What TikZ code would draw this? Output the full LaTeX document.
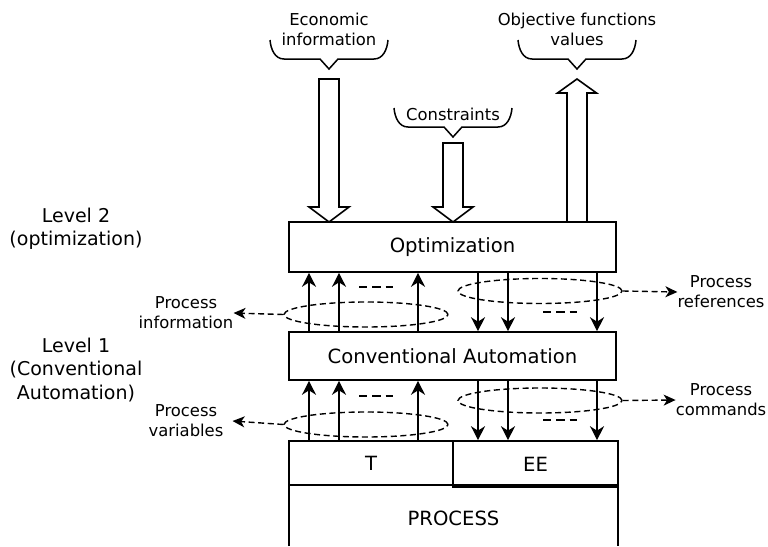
\documentclass[tikz,border=0pt]{standalone}
\usepackage{fontspec}
\setmainfont{DejaVu Sans}
\usetikzlibrary{arrows.meta,shapes.geometric}

% block arrow pointing down: centre x, top y, tip y
\newcommand{\blockdown}[3]{%
  \draw[blockarrow] (#1-10,#2) -- (#1+10,#2) -- (#1+10,#3-15) -- (#1+20,#3-15)
    -- (#1,#3) -- (#1-20,#3-15) -- (#1-10,#3-15) -- cycle;}
% block arrow pointing up: centre x, bottom y, tip y
\newcommand{\blockup}[3]{%
  \draw[blockarrow] (#1-10,#2) -- (#1+10,#2) -- (#1+10,#3+14) -- (#1+19.5,#3+14)
    -- (#1,#3) -- (#1-19.5,#3+14) -- (#1-10,#3+14) -- cycle;}

\tikzset{
  box/.style={draw, line width=1.6pt, rectangle, inner sep=0pt,
    font=\fontsize{19.6}{23}\selectfont},
  levelfont/.style={align=center, inner sep=0pt,
    font=\fontsize{19}{23.5}\selectfont},
  smalllabel/.style={align=center, inner sep=0pt,
    font=\fontsize{16.4}{20}\selectfont},
  blockarrow/.style={draw, line width=1.6pt, fill=white, line join=miter},
  flow/.style={line width=1.5pt, -{Stealth[length=14pt,width=14pt,inset=4.5pt]}},
  group/.style={ellipse, draw, line width=1.4pt, dash pattern=on 6pt off 3.6pt,
    inner sep=0pt, minimum width=164pt, minimum height=25pt},
  grouparrow/.style={line width=1.4pt, dash pattern=on 6pt off 3.6pt,
    -{Stealth[length=12pt,width=11pt,inset=3.5pt]}},
  ellipsis/.style={line width=1.5pt, dash pattern=on 8.3pt off 5pt},
  brace line/.style={line width=1.5pt},
  topbrace/.pic={
    \draw[brace line] (-59,-19) to[out=-85,in=180] (-45,0) -- (-9,0) -- (0,10)
      -- (9,0) -- (45,0) to[out=0,in=-95] (59,-19);
  }
}

\begin{document}
\begin{tikzpicture}[x=1pt, y=-1pt]
\useasboundingbox (0,0) rectangle (768,546);

% column positions of the signal lines
\coordinate (u1) at (309,0);
\coordinate (u2) at (339,0);
\coordinate (u3) at (418,0);
\coordinate (d1) at (478,0);
\coordinate (d2) at (508,0);
\coordinate (d3) at (597,0);

% level captions
\node[levelfont] (lev2) at (76,229) {Level 2\\(optimization)};
\node[levelfont] (lev1) at (76,370) {Level 1\\(Conventional\\Automation)};

% main blocks
\node[box, minimum width=327pt, minimum height=50pt] (opt) at (452.5,247) {Optimization};
\node[box, minimum width=327pt, minimum height=48pt] (ca) at (452.5,356) {Conventional Automation};
\node[box, minimum width=164pt, minimum height=44pt] (tbox) at (371,463) {T};
\node[box, minimum width=165pt, minimum height=46pt] (ee) at (535.5,464) {EE};
\draw[line width=1.6pt] (289,546) -- (289,485) -- (618,485) -- (618,546);
\node[box, draw=none] (proc) at (453.5,518) {PROCESS};

% inputs and outputs of the optimization level
\node[smalllabel] (eco) at (329,29) {Economic\\information};
\node[smalllabel] (cons) at (453,114) {Constraints};
\node[smalllabel] (obj) at (577,29) {Objective functions\\values};
\pic at (329,59) {topbrace};
\pic at (453,127) {topbrace};
\pic at (577,59) {topbrace};
\blockdown{329}{79}{222}
\blockdown{453}{143}{222}
\blockup{577}{222}{79}

% signal groups between the levels
\node[group] (ginfo) at (366,314.5) {};
\node[group] (gref) at (540,291) {};
\node[group] (gvar) at (366,424.5) {};
\node[group] (gcmd) at (540,400.5) {};

\node[smalllabel] (pinfo) at (186,313) {Process\\information};
\node[smalllabel] (pref) at (721,292) {Process\\references};
\node[smalllabel] (pvar) at (186,421) {Process\\variables};
\node[smalllabel] (pcmd) at (721,400) {Process\\commands};

\draw[grouparrow] (ginfo.west) -- (pinfo.east);
\draw[grouparrow] (gref.east) -- (pref.west);
\draw[grouparrow] (gvar.west) -- ([xshift=9pt]pvar.east);
\draw[grouparrow] (gcmd.east) -- (pcmd.west);

% measured values going up
\foreach \c in {u1,u2,u3} {
  \draw[flow] (ca.north -| \c) -- (opt.south -| \c);
  \draw[flow] (tbox.north -| \c) -- (ca.south -| \c);
}
% references and commands going down
\foreach \c in {d1,d2,d3} {
  \draw[flow] (opt.south -| \c) -- (ca.north -| \c);
  \draw[flow] (ca.south -| \c) -- (ee.north -| \c);
}

% "and so on" marks between the lines
\draw[ellipsis] (359,287) -- (393,287);
\draw[ellipsis] (543,312) -- (577,312);
\draw[ellipsis] (359,396) -- (393,396);
\draw[ellipsis] (543,420) -- (577,420);
\end{tikzpicture}
\end{document}
